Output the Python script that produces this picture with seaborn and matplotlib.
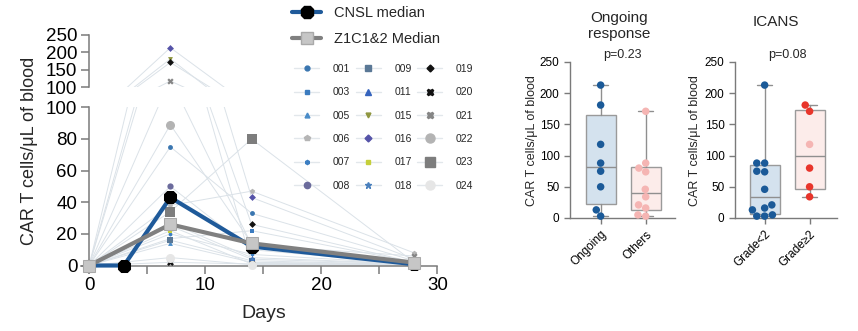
import numpy as np
import pandas as pd
import matplotlib
matplotlib.use("Agg")
import matplotlib.pyplot as plt
from matplotlib.lines import Line2D
import seaborn as sns

# ---------------- data ----------------
# CAR T cell expansion per patient (cells/uL of blood)
patients = ["001", "003", "005", "006", "007", "008", "009", "011", "015",
            "016", "017", "018", "019", "020", "021", "022", "023", "024"]
days = [0, 7, 14, 28]
day0 = [0, 0, 0, 0, 0, 0, 0, 0, 0, 0, 0, 0, 0, 0, 0, 0, 0, 0]
day7 = [75, 17, 14, 38, 20, 50, 16, 27, 181, 213, 22, 25, 171, 2, 118, 89, 34, 5]
day14 = [33, 22, 2, 47, 7, 10, 3, 5, 1.5, 43, 1, 4, 26, 1, 13, 14, 80, 0.5]
day28 = [3, 2, 1, 8, 1, 1, 0.5, 1, 0.5, 4, 0.5, 1, 2, 0.5, 6, 1.5, 2, 0.5]

cnsl_days = [0, 3, 7, 14, 28]
cnsl_median = [0, 0, 43, 12, 0.8]
z1_days = [0, 7, 14, 28]
z1_median = [0, 26, 14, 1.8]

# Peak expansion by response / ICANS grade
resp_groups = ["Ongoing", "Others"]
ongoing = [213, 181, 118, 88, 75, 50, 13, 3]
others = [171, 88, 80, 74, 46, 34, 21, 16, 5, 3]

icans_groups = ["Grade<2", "Grade\u22652"]
grade_lt2 = [213, 88, 88, 75, 74, 46, 21, 16, 13, 5, 3, 3]
grade_ge2 = [181, 171, 118, 80, 50, 34]
grade_ge2_ongoing = [False, False, True, False, False, False]

p_resp = "p=0.23"
p_icans = "p=0.08"

# ---------------- styles ----------------
patient_style = {
    "001": ("o", "#3a76b0", 3.5),
    "003": ("s", "#3b7bbf", 3.5),
    "005": ("^", "#4a8cc8", 3.5),
    "006": ("p", "#b5b5b5", 4),
    "007": ("h", "#3c7ec2", 3),
    "008": ("o", "#6b6b9c", 4.5),
    "009": ("s", "#5a7896", 4.5),
    "011": ("^", "#3563bd", 4),
    "015": ("v", "#8f9640", 3.5),
    "016": ("D", "#5553a8", 3.5),
    "017": ("s", "#c5cf3a", 3),
    "018": ("*", "#4a80bd", 4.5),
    "019": ("D", "#111111", 3.5),
    "020": ("X", "#111111", 5),
    "021": ("X", "#858585", 4.5),
    "022": ("o", "#b3b3b3", 6.5),
    "023": ("s", "#7d7d7d", 6.5),
    "024": ("o", "#e6e6e6", 6.5),
}
LINE_C = "#dbe2e8"
CNSL_C = "#1f5a9a"
Z1_C = "#808080"
AX_C = "#7a7a7a"
BLUE_PT = "#1b5a98"
PINK_PT = "#f5b5b3"
RED_PT = "#e8352b"

sns.set_style("ticks")
plt.rcParams["font.family"] = ["Liberation Sans", "DejaVu Sans"]

W, H = 858, 331
fig = plt.figure(figsize=(W / 100, H / 100), dpi=100)


def fbox(x0, y_top, x1, y_bot):
    return [x0 / W, 1 - y_bot / H, (x1 - x0) / W, (y_bot - y_top) / H]


# ---------------- kinetics panel (broken y axis) ----------------
long = pd.DataFrame({
    "patient": np.repeat(patients, len(days)),
    "day": np.tile(days, len(patients)),
    "value": np.column_stack([day0, day7, day14, day28]).ravel(),
})

ax_lo = fig.add_axes(fbox(81, 107.3, 437.3, 265.5))
ax_hi = fig.add_axes(fbox(81, 34.7, 437.3, 87.3))

for ax, (lo, hi) in [(ax_lo, (0, 100)), (ax_hi, (100, 250))]:
    sns.lineplot(data=long, x="day", y="value", units="patient", estimator=None,
                 color=LINE_C, lw=0.7, ax=ax, zorder=1, legend=False)
    sub = long[(long["value"] >= lo) & (long["value"] <= hi)]
    for pid in patients:
        m, c, s = patient_style[pid]
        pts = sub[sub["patient"] == pid]
        if len(pts):
            sns.scatterplot(data=pts, x="day", y="value", marker=m, color=c,
                            s=s ** 2, linewidth=0, ax=ax, zorder=3,
                            clip_on=False, legend=False)
    sns.lineplot(x=cnsl_days, y=cnsl_median, color=CNSL_C, lw=3, marker="8",
                 markersize=9.5, markerfacecolor="black", markeredgecolor="black",
                 ax=ax, zorder=4, clip_on=(ax is ax_hi))
    sns.lineplot(x=z1_days, y=z1_median, color=Z1_C, lw=3, marker="s",
                 markersize=9, markerfacecolor="#c6c6c6",
                 markeredgecolor="#a9a9a9", ax=ax, zorder=5, clip_on=(ax is ax_hi))
    ax.set_xlim(-0.7, 30)
    ax.set_ylim(lo, hi)
    ax.set_xlabel("")
    ax.set_ylabel("")
    ax.spines["left"].set_position(("data", 0))
    ax.spines["right"].set_visible(False)
    ax.spines["top"].set_visible(False)
    for sp in ax.spines.values():
        sp.set_color(AX_C)
        sp.set_linewidth(1.1)
    ax.tick_params(axis="both", colors=AX_C, labelcolor="black", labelsize=13.5,
                   length=6, width=1.1, direction="out", pad=2.5)
    ax.patch.set_alpha(0)

ax_lo.set_yticks([0, 20, 40, 60, 80, 100])
ax_lo.set_xticks([0, 10, 20, 30])
ax_lo.set_xticks([5, 15, 25], minor=True)
ax_lo.tick_params(axis="x", which="minor", length=6, width=1.1, colors=AX_C)
ax_hi.set_yticks([100, 150, 200, 250])
ax_hi.spines["bottom"].set_visible(False)
ax_hi.tick_params(axis="x", bottom=False, labelbottom=False)

fig.text(30 / W, 1 - 151 / H, "CAR T cells/\u03bcL of blood", rotation=90,
         ha="center", va="center", fontsize=13)
fig.text(264 / W, 1 - 313 / H, "Days", ha="center", va="center", fontsize=14)

# legends
med_handles = [
    Line2D([], [], color=CNSL_C, lw=3, marker="8", ms=9.5,
           mfc="black", mec="black"),
    Line2D([], [], color=Z1_C, lw=3, marker="s", ms=8.5,
           mfc="#c6c6c6", mec="#a9a9a9"),
]
fig.legend(med_handles, ["CNSL median", "Z1C1&2 Median"], loc="upper left",
           bbox_to_anchor=(292 / W, 1 - 6 / H), frameon=False, fontsize=10.5,
           handlelength=2.0, handletextpad=0.9, labelspacing=0.85,
           borderpad=0, borderaxespad=0)

pat_handles = []
for pid in patients:
    m, c, s = patient_style[pid]
    pat_handles.append(Line2D([], [], color="#e2e7eb", lw=1, marker=m, ms=s,
                              mfc=c, mec=c))
fig.legend(pat_handles, patients, loc="upper left", ncol=3,
           bbox_to_anchor=(294 / W, 1 - 64 / H), frameon=False, fontsize=7.5,
           handlelength=2.4, handletextpad=1.3, columnspacing=0.55,
           labelspacing=1.28, borderpad=0, borderaxespad=0)


# ---------------- box panels ----------------
def box_panel(ax, groups, series, box_fills, df, palette, xlim):
    stats = []
    for label, vals in zip(groups, series):
        v = np.asarray(vals, float)
        q1, med, q3 = np.percentile(v, [25, 50, 75], method="weibull")
        stats.append(dict(label=label, med=med, q1=q1, q3=q3,
                          whislo=v.min(), whishi=v.max(), fliers=[]))
    sns.swarmplot(data=df, x="group", y="value", hue="shade", order=groups,
                  palette=palette, size=5.4, ax=ax, legend=False, zorder=3,
                  clip_on=False)
    line_kw = dict(color="#8f8f8f", linewidth=1)
    bp = ax.bxp(stats, positions=[0, 1], widths=0.67, patch_artist=True,
                showfliers=False, manage_ticks=False,
                boxprops=dict(edgecolor="#9a9a9a", linewidth=1),
                medianprops=line_kw, whiskerprops=line_kw, capprops=line_kw)
    for patch, fc in zip(bp["boxes"], box_fills):
        patch.set_facecolor(fc)
        patch.set_zorder(2)
    ax.set_xlim(*xlim)
    ax.set_ylim(0, 250)
    ax.set_yticks([0, 50, 100, 150, 200, 250])
    ax.set_xticks([0, 1])
    ax.set_xticklabels(groups, rotation=45, ha="right", rotation_mode="anchor",
                       fontsize=8.5)
    ax.set_xlabel("")
    ax.set_ylabel("")
    ax.spines["right"].set_visible(False)
    ax.spines["top"].set_visible(False)
    for sp in ax.spines.values():
        sp.set_color(AX_C)
        sp.set_linewidth(1)
    ax.tick_params(axis="both", colors=AX_C, labelcolor="black", labelsize=8.5,
                   length=4, width=1)
    ax.tick_params(axis="x", labelsize=8.5)
    ax.patch.set_alpha(0)


resp_df = pd.DataFrame({
    "group": [resp_groups[0]] * len(ongoing) + [resp_groups[1]] * len(others),
    "value": ongoing + others,
    "shade": ["blue"] * len(ongoing) + ["pink"] * len(others),
})
ax_r = fig.add_axes(fbox(570, 62, 675, 218))
box_panel(ax_r, resp_groups, [ongoing, others], ["#d4e2ee", "#fcecea"],
          resp_df, {"blue": BLUE_PT, "pink": PINK_PT}, (-0.68, 1.65))

icans_df = pd.DataFrame({
    "group": [icans_groups[0]] * len(grade_lt2) + [icans_groups[1]] * len(grade_ge2),
    "value": grade_lt2 + grade_ge2,
    "shade": ["blue"] * len(grade_lt2)
             + ["pink" if f else "red" for f in grade_ge2_ongoing],
})
ax_i = fig.add_axes(fbox(735, 62, 837, 218))
box_panel(ax_i, icans_groups, [grade_lt2, grade_ge2], ["#d4e2ee", "#fcecea"],
          icans_df, {"blue": BLUE_PT, "red": RED_PT, "pink": PINK_PT},
          (-0.66, 1.61))

for x_px, label in [(531.5, "CAR T cells/\u03bcL of blood"),
                    (695, "CAR T cells/\u03bcL of blood")]:
    fig.text(x_px / W, 1 - 141 / H, label, rotation=90, ha="center",
             va="center", fontsize=9)

fig.text(619 / W, 1 - 26 / H, "Ongoing\nresponse", ha="center", va="center",
         fontsize=11, linespacing=1.2)
fig.text(622 / W, 1 - 55 / H, p_resp, ha="center", va="center", fontsize=9)
fig.text(776 / W, 1 - 22 / H, "ICANS", ha="center", va="center", fontsize=11)
fig.text(787 / W, 1 - 55 / H, p_icans, ha="center", va="center", fontsize=9)

fig.savefig("out.png", dpi=100)
